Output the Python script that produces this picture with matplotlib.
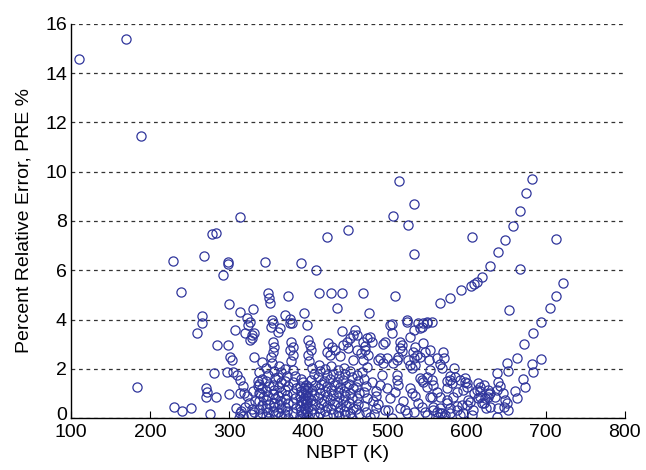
import matplotlib
matplotlib.use("Agg")
import matplotlib.pyplot as plt
from matplotlib.transforms import ScaledTranslation

# NBPT (K) vs percent relative error as (x, y) pairs

# scattered high-error points
upper_pts = [
    (110.5, 14.57), (169.6, 15.38), (188.5, 11.47), (313.5, 8.17), (278, 7.47),
    (283, 7.5), (423, 7.37), (450.7, 7.64), (515, 9.62), (533, 8.7),
    (507.6, 8.22), (526.6, 7.85), (607.5, 7.35), (534, 6.67), (229.5, 6.37),
    (267.8, 6.56), (299, 6.35), (299, 6.26), (292.6, 5.8), (238.7, 5.13),
    (345.4, 6.33), (390.5, 6.29), (409.8, 6.02), (349.5, 5.07), (350.8, 4.87),
    (351.7, 4.69), (374.8, 4.96), (414, 5.07), (428.4, 5.09), (442.4, 5.09),
    (469, 5.09), (509.8, 4.96), (300, 4.62), (266, 4.15), (266, 3.85),
    (259.7, 3.44), (477, 4.28), (436, 4.48), (330.5, 4.42), (313.7, 4.32),
    (370.6, 4.19), (394.7, 4.26), (524.6, 3.96), (184, 1.27),
]

# band between 2 and 4 %
band_pts = [
    (322, 4.05), (326, 3.91), (324, 3.78), (331.5, 3.44), (328.5, 3.24),
    (326.4, 3.17), (320, 3.45), (328.5, 3.37), (307, 3.59), (299, 2.97),
    (301, 2.49), (303, 2.36), (331.5, 2.49), (342, 2.29), (285, 2.97),
    (353.8, 3.98), (355, 3.85), (353, 3.71), (364.3, 3.65), (362, 3.51),
    (377, 3.85), (377, 4.01), (379, 3.87), (398, 3.78), (355, 3.1),
    (357, 2.9), (355, 2.7), (353, 2.49), (354, 2.25), (378, 3.1),
    (380, 2.9), (377, 2.76), (381, 2.56), (378, 2.3), (400, 3.17),
    (402, 2.97), (403, 2.76), (400, 2.56), (401, 2.3), (425.5, 3.04),
    (429.7, 2.9), (423.4, 2.7), (427.5, 2.56), (434, 2.76), (440, 2.5),
    (444.4, 2.97), (448.7, 3.1), (453, 3.24), (457, 3.37), (450.7, 2.85),
    (442.4, 3.55), (459, 3.58), (461.3, 3.37), (469.7, 3.1), (474, 3.24),
    (478, 3.3), (480.3, 3.1), (471.8, 2.76), (476, 2.56), (469.7, 2.36),
    (474, 2.08), (467.6, 1.88), (461.3, 2.76), (457, 2.36), (466, 2.63),
    (472, 2.92), (488.6, 2.36), (499, 2.43), (491, 2.45), (495, 2.22),
    (507.6, 2.22), (512, 2.36), (497, 3.1), (495, 3.02), (516, 3.1),
    (518, 2.97), (516, 2.83), (514, 2.49), (519, 2.72), (528.7, 3.3),
    (535, 2.9), (537, 2.56), (533, 2.43), (532, 2.7), (526.6, 2.36),
    (535, 2.15), (528.7, 2.15), (531, 2.02), (541.4, 2.49), (547.7, 2.7),
    (545, 3.04), (554, 2.76), (552, 2.36), (562.5, 2.43), (570, 2.7),
    (571, 2.43), (569, 2.02), (566.7, 2.18), (554, 1.95), (584, 2.02),
    (503.4, 3.78), (505.6, 3.44), (524.6, 3.91), (533, 3.58), (543.5, 3.71),
    (550, 3.87), (556, 3.91), (539, 3.85), (545.4, 3.85), (541.4, 3.65),
    (505.6, 3.8), (297, 1.88), (304.5, 1.88), (309.6, 1.75),
]

# dense cloud below 2 %
dense_pts = [
    (230, 0.46), (240, 0.28), (252, 0.42), (271, 1.23), (272, 1.05),
    (270, 0.87), (283.5, 0.84), (276, 0.15), (281, 1.84), (313.5, 1.54),
    (300, 0.96), (313.5, 1.0), (319, 1.0), (308, 0.4), (313, 0.2),
    (315, 0.3), (317, 0.1), (312, 0.02), (331.5, 0.26), (336, 1.5),
    (336, 1.3), (338, 1.0), (318, 1.3), (322, 0.9), (325, 0.6),
    (320, 0.45), (327, 0.15), (330, 1.1), (333, 0.7), (329, 0.38),
    (338, 1.85), (341, 1.6), (337, 1.4), (342, 1.2), (339, 1.02),
    (343, 0.85), (338, 0.7), (341, 0.52), (337, 0.36), (342, 0.2),
    (339, 0.08), (347, 2.05), (349, 1.75), (346, 1.5), (350, 1.3),
    (347, 1.1), (349, 0.9), (346, 0.75), (350, 0.56), (347, 0.4),
    (349, 0.25), (346, 0.1), (350, 0.02), (356, 1.9), (358, 1.62),
    (355, 1.36), (357, 1.15), (355, 0.96), (358, 0.8), (356, 0.6),
    (357, 0.45), (355, 0.3), (358, 0.15), (363, 2.1), (365, 1.85),
    (362, 1.66), (366, 1.45), (363, 1.25), (365, 1.06), (362, 0.9),
    (366, 0.7), (363, 0.56), (365, 0.4), (362, 0.25), (366, 0.1),
    (371, 2.0), (373, 1.72), (370, 1.5), (374, 1.3), (371, 1.12),
    (373, 0.95), (370, 0.76), (374, 0.6), (371, 0.45), (373, 0.3),
    (370, 0.15), (374, 0.02), (381, 1.95), (383, 1.7), (380, 1.45),
    (384, 1.22), (381, 1.0), (383, 0.8), (380, 0.6), (384, 0.4),
    (381, 0.2), (391, 1.6), (393, 1.45), (390, 1.3), (394, 1.2),
    (391, 1.1), (393, 1.0), (390, 0.9), (394, 0.8), (391, 0.7),
    (393, 0.6), (390, 0.5), (394, 0.4), (391, 0.3), (393, 0.2),
    (390, 0.1), (392, 0.0), (397, 1.35), (399, 1.25), (396, 1.15),
    (398, 1.05), (397, 0.95), (399, 0.85), (396, 0.75), (398, 0.65),
    (397, 0.55), (399, 0.45), (396, 0.35), (398, 0.25), (397, 0.15),
    (399, 0.05), (405, 2.05), (407, 1.8), (404, 1.55), (408, 1.35),
    (405, 1.15), (407, 0.95), (404, 0.75), (408, 0.55), (405, 0.35),
    (407, 0.15), (413, 2.15), (415, 1.9), (412, 1.65), (416, 1.4),
    (413, 1.2), (415, 1.0), (412, 0.8), (416, 0.6), (413, 0.4),
    (415, 0.2), (412, 0.05), (421, 2.0), (423, 1.75), (420, 1.5),
    (424, 1.3), (421, 1.1), (423, 0.9), (420, 0.7), (424, 0.5),
    (421, 0.3), (423, 0.1), (429, 2.1), (431, 1.8), (428, 1.6),
    (432, 1.35), (429, 1.15), (431, 0.95), (428, 0.75), (432, 0.55),
    (429, 0.35), (431, 0.15), (437, 1.95), (439, 1.7), (436, 1.45),
    (440, 1.25), (437, 1.05), (439, 0.85), (436, 0.65), (440, 0.45),
    (437, 0.25), (439, 0.08), (445, 2.05), (447, 1.8), (444, 1.55),
    (448, 1.3), (445, 1.1), (447, 0.9), (444, 0.7), (448, 0.5),
    (445, 0.3), (447, 0.12), (453, 1.9), (455, 1.65), (452, 1.4),
    (456, 1.2), (453, 1.0), (455, 0.8), (452, 0.6), (456, 0.4),
    (453, 0.2), (455, 0.02), (461, 1.75), (463, 1.5), (460, 1.25),
    (464, 1.0), (461, 0.8), (463, 0.55), (460, 0.35), (464, 0.15),
    (471, 1.6), (473, 1.3), (470, 1.05), (474, 0.8), (471, 0.5),
    (473, 0.25), (481, 1.45), (485, 1.1), (482, 0.7), (486, 0.4),
    (483, 0.15), (485.7, 0.9), (503.4, 0.8), (497, 0.33), (501, 0.33),
    (516, 0.39), (522.4, 0.33), (539, 0.6), (543.5, 0.46), (550, 0.12),
    (558, 0.33), (478, 0.05), (505.6, 0.0), (524.6, 0.2), (533, 0.26),
    (493, 1.75), (491, 1.34), (512, 1.75), (512, 1.54), (513, 1.34),
    (528.7, 1.2), (531, 1.0), (564.5, 0.05), (569, 0.19), (488, 0.55),
    (510, 1.05), (520, 0.7), (535, 0.9), (500, 1.2),
]

# right side: rising arcs and the low cloud under them
right_pts = [
    (566.7, 4.66), (579, 4.89), (592.8, 5.2), (605.5, 5.37), (609.7, 5.45),
    (613.5, 5.54), (619.4, 5.71), (630, 6.17), (640.4, 6.73), (648.9, 7.23),
    (658.6, 7.81), (667.8, 8.41), (675.4, 9.13), (683.4, 9.72), (549.8, 3.91),
    (713.4, 7.27), (667.8, 6.04), (654.3, 4.39),
    (638.4, 1.82), (651, 2.25), (663.6, 2.45), (673.3, 3.0), (684.7, 3.44),
    (694.4, 3.91), (705, 4.45), (713.4, 4.97), (721.8, 5.47), (653, 1.92),
    (640.4, 1.47), (642.5, 1.3),
    (661.5, 1.11), (672, 1.58), (682.6, 2.18), (694.4, 2.4), (684.7, 1.88),
    (674, 1.27), (663.6, 0.8),
    (649, 0.73), (651, 0.6), (647, 0.46), (653, 0.33), (640.4, 0.39),
    (638.4, 0.05), (626.7, 1.14), (626.7, 0.87), (622.5, 0.6), (624.6, 0.39),
    (630, 1.0), (617, 1.27), (607, 0.12),
    (585.6, 1.68), (579, 1.54), (592, 1.54), (598, 1.61), (600.4, 1.41),
    (615, 1.41), (617, 1.1), (628, 0.98), (623.6, 0.8), (615, 0.8),
    (619.4, 0.6), (630, 0.46), (636, 0.87), (638.4, 1.14), (646.7, 1.0),
    (596, 1.14), (587.8, 1.07), (583.5, 0.87), (575, 0.6), (566.7, 0.39),
    (579, 0.39), (587.8, 0.5), (600.4, 0.53), (608.8, 0.33), (604.6, 0.66),
    (543.5, 1.54), (550, 1.27), (554, 0.87), (558, 0.46), (547.7, 0.26),
    (562.5, 0.26), (571, 0.05),
    (541, 1.61), (545.6, 1.45), (550, 1.68), (556, 1.54), (558, 1.34),
    (562.5, 1.07), (556, 0.87), (575, 1.5), (579, 1.7), (581.5, 1.41),
    (575, 1.2), (566.7, 0.87), (575, 0.73), (579, 0.2), (566.7, 0.2),
    (573, 0.14), (592, 0.14), (596, 0.2), (588, 0.33), (594, 0.53),
    (602.5, 0.73), (609, 1.0), (613, 1.14), (621.5, 1.34), (617, 0.87),
    (600, 1.27), (598, 1.48),
]

xticks = [100, 200, 300, 400, 500, 600, 700, 800]
yticks = [0, 2, 4, 6, 8, 10, 12, 14, 16]

plt.rcParams['font.family'] = ['Liberation Sans', 'DejaVu Sans']

fig = plt.figure(figsize=(6.46, 4.70), dpi=100)
ax = fig.add_axes([0.110, 0.1106, 0.857, 0.8384])

for pts in (upper_pts, band_pts, dense_pts, right_pts):
    xs = [p[0] for p in pts]
    ys = [p[1] for p in pts]
    ax.plot(xs, ys, linestyle='none', marker='o', markersize=6.6,
            markerfacecolor='none', markeredgecolor='#30369c',
            markeredgewidth=0.9)

ax.set_xlim(100, 800)
ax.set_ylim(0, 16)
ax.set_xticks(xticks)
ax.set_yticks(yticks)
ax.yaxis.grid(True, linestyle=(0, (3, 3)), color='#333333', linewidth=0.9)
ax.set_axisbelow(True)

for side in ('top', 'right'):
    ax.spines[side].set_visible(False)
ax.spines['left'].set_linewidth(1.0)
ax.spines['bottom'].set_linewidth(1.0)

ax.tick_params(axis='x', direction='in', length=5, labelsize=14, pad=4)
ax.tick_params(axis='y', direction='in', length=0, labelsize=14, pad=3)
# nudge the "0" label up a few pixels so it clears the "100" below it
zero_lbl = ax.get_yticklabels()[0]
zero_lbl.set_transform(zero_lbl.get_transform()
                       + ScaledTranslation(0, 3 / 72, fig.dpi_scale_trans))

ax.set_xlabel('NBPT (K)', fontsize=14, labelpad=3)
ax.set_ylabel('Percent Relative Error, PRE %', fontsize=14, labelpad=9)

fig.savefig('out.png', dpi=100)
